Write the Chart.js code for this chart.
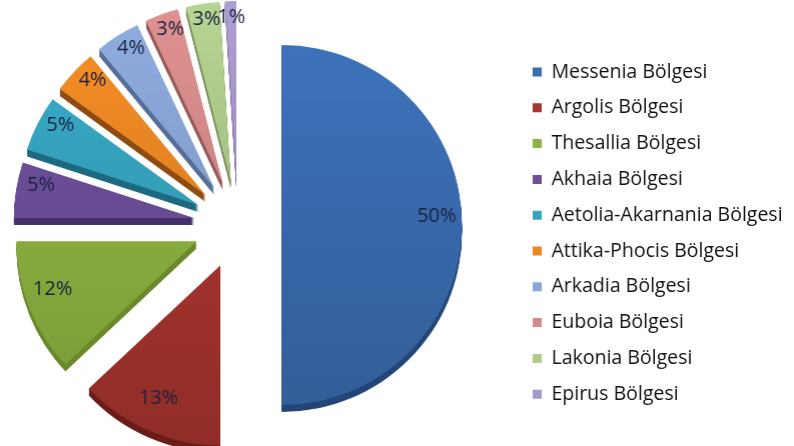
<!DOCTYPE html>
<html>
<head>
<meta charset="utf-8">
<script src="https://cdn.jsdelivr.net/npm/chart.js@4.4.1/dist/chart.umd.min.js"></script>
<style>
html,body{margin:0;padding:0;background:#ffffff;}
#wrap{width:794px;height:446px;position:relative;overflow:hidden;}
#holder{position:absolute;top:0;height:446px;}
</style>
</head>
<body>
<div id="wrap"><div id="holder"><canvas id="c"></canvas></div></div>
<script>
// ---- data ----
const categories = [
  'Messenia Bölgesi', 'Argolis Bölgesi', 'Thesallia Bölgesi', 'Akhaia Bölgesi',
  'Aetolia-Akarnania Bölgesi', 'Attika-Phocis Bölgesi', 'Arkadia Bölgesi',
  'Euboia Bölgesi', 'Lakonia Bölgesi', 'Epirus Bölgesi'
];
const shares = [50, 13, 12, 5, 5, 4, 4, 3, 3, 1];
const shareLabels = ['50%', '13%', '12%', '5%', '5%', '4%', '4%', '3%', '3%', '1%'];

// ---- styles ----
const sliceColors = ['#3A6DB2', '#A8342F', '#8DB340', '#6C4E99', '#36A5C0',
                     '#EC8823', '#88A6D6', '#D68B8B', '#AECB8B', '#A597CA'];
const sideColors  = ['#234677', '#6B1D1A', '#6A8A2A', '#44306A', '#1E6A82',
                     '#8E4C12', '#566F99', '#985959', '#758F58', '#6E618F'];

const W = 794, H = 446;
const CX = 238, CY = 225;           // pie centre on the page
const legendBoxX = 533, legendTextX = 551, legendPad = 16.3;
const legendFont = {family: "'Open Sans'", size: 19.5};

// measure longest legend label to place the legend
const mctx = document.createElement('canvas').getContext('2d');
mctx.font = legendFont.size + "px 'Open Sans'";
const textW = Math.max(...categories.map(t => mctx.measureText(t).width));
const legendLeft = legendBoxX - legendPad;      // legend box left on the page
const shiftX = Math.max(0, legendLeft - 2 * CX); // widen canvas to the left so the pie centre lands on CX
const canvasW = W + shiftX;
const holder = document.getElementById('holder');
holder.style.left = (-shiftX) + 'px';
holder.style.width = canvasW + 'px';
const padLeft = Math.max(0, 2 * CX - legendLeft);
const padRight = canvasW - (legendTextX + shiftX + textW + 10);
const padTop = 2 * CY - H;

function shade(hex, f) {
  const n = parseInt(hex.slice(1), 16);
  const ch = [(n >> 16) & 255, (n >> 8) & 255, n & 255].map(v => Math.max(0, Math.min(255, Math.round(v * f))));
  return 'rgb(' + ch.join(',') + ')';
}

const pieDepth = {
  id: 'pieDepth',
  beforeDatasetDraw(chart, args, opts) {
    const ctx = chart.ctx;
    const arcs = args.meta.data;
    const d = opts.explode, depth = opts.depth;
    const shift = a => {
      const m = (a.startAngle + a.endAngle) / 2;
      return [Math.cos(m) * d, Math.sin(m) * d];
    };
    arcs.forEach((arc, i) => {
      const [dx, dy] = shift(arc);
      const side = Object.create(arc);
      side.options = Object.assign({}, arc.options, {backgroundColor: sideColors[i], borderWidth: 0});
      for (let k = depth; k >= 1; k--) {
        ctx.save(); ctx.translate(dx, dy + k); side.draw(ctx); ctx.restore();
      }
    });
    arcs.forEach((arc, i) => {
      const [dx, dy] = shift(arc);
      const g = ctx.createLinearGradient(0, arc.y - arc.outerRadius, 0, arc.y + arc.outerRadius);
      g.addColorStop(0, shade(sliceColors[i], 1.05));
      g.addColorStop(1, shade(sliceColors[i], 0.86));
      const top = Object.create(arc);
      top.options = Object.assign({}, arc.options, {backgroundColor: g});
      ctx.save(); ctx.translate(dx, dy); top.draw(ctx); ctx.restore();
    });
    return false;
  },
  afterDatasetsDraw(chart, args, opts) {
    const ctx = chart.ctx;
    const arcs = chart.getDatasetMeta(0).data;
    ctx.save();
    ctx.font = "20px 'Open Sans'";
    ctx.fillStyle = '#1b2240';
    ctx.textAlign = 'center';
    ctx.textBaseline = 'middle';
    arcs.forEach((arc, i) => {
      const m = (arc.startAngle + arc.endAngle) / 2;
      const r = opts.explode + arc.outerRadius * opts.labelRatio;
      ctx.fillText(shareLabels[i], arc.x + Math.cos(m) * r, arc.y + Math.sin(m) * r + opts.labelLift);
    });
    ctx.restore();
  }
};

new Chart(document.getElementById('c'), {
  type: 'pie',
  data: {
    labels: categories,
    datasets: [{
      data: shares,
      backgroundColor: sliceColors,
      borderWidth: 0,
      radius: 180,
      offset: 0
    }]
  },
  options: {
    responsive: true,
    maintainAspectRatio: false,
    animation: false,
    devicePixelRatio: 1,
    layout: {padding: {left: padLeft, right: padRight, top: padTop, bottom: 0}},
    plugins: {
      tooltip: {enabled: false},
      pieDepth: {explode: 44, depth: 7, labelRatio: 0.86, labelLift: -9},
      legend: {
        position: 'right',
        align: 'center',
        title: {display: true, text: '', padding: {top: 0, bottom: 4.2}, font: {size: 10}},
        labels: {
          boxWidth: 9, boxHeight: 9, padding: legendPad,
          color: '#111111', font: legendFont
        }
      }
    }
  },
  plugins: [pieDepth]
});
</script>
</body>
</html>
